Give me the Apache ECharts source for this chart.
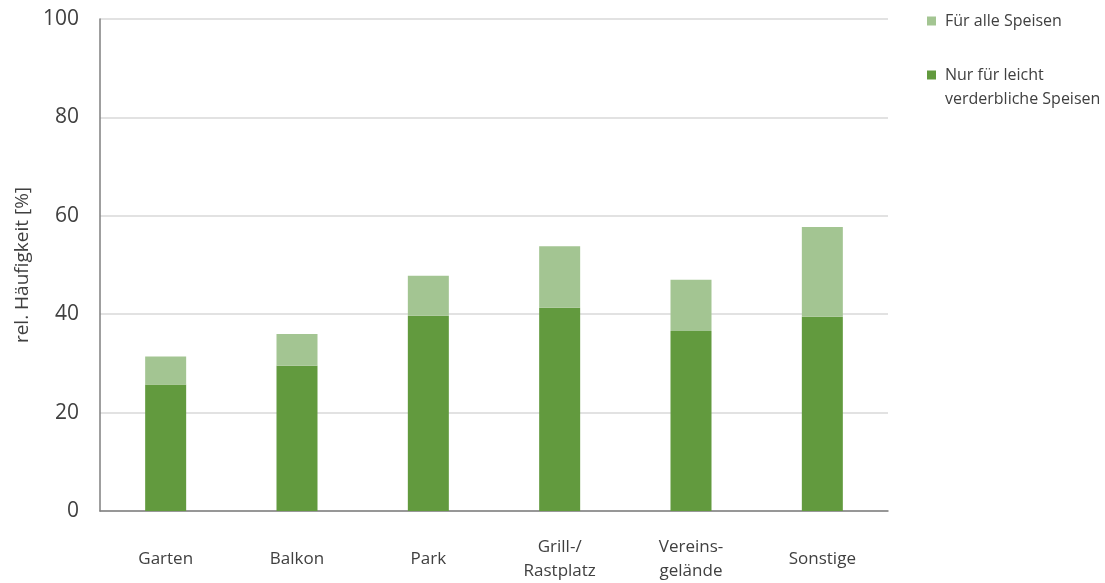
<!DOCTYPE html>
<html lang="de">
<head>
    <meta charset="UTF-8">
    <title>rel. Häufigkeit</title>
    <script src="https://cdn.jsdelivr.net/npm/echarts@6/dist/echarts.min.js"></script>
</head>
<body style="margin:0; width:1105px; height:583px; background:#fff">
<div id="main" style="width:1105px; height:583px"></div>
<script type="text/javascript">
    // Kategorien und Werte
    var categories = ['Garten', 'Balkon', 'Park', 'Grill-/\nRastplatz', 'Vereins-\ngelände', 'Sonstige'];
    var nurLeicht = [25.7, 29.5, 39.7, 41.3, 36.6, 39.5];   // dunkelgrün, unten
    var fuerAlle = [5.7, 6.5, 8.1, 12.5, 10.4, 18.2];       // hellgrün, oben gestapelt
    var yTicks = [0, 20, 40, 60, 80, 100];

    var nameAlle = 'Für alle Speisen';
    var nameLeicht = 'Nur für leicht verderbliche Speisen';

    var font = '"Open Sans", "Noto Sans", sans-serif';
    var myChart = echarts.init(document.getElementById('main'));

    myChart.setOption({
        animation: false,
        textStyle: { fontFamily: font },
        grid: { left: 100, right: 217, top: 19, bottom: 72, containLabel: false },
        legend: {
            orient: 'vertical',
            left: 927,
            top: 9,
            padding: 0,
            itemWidth: 9,
            itemHeight: 9,
            itemGap: 6,
            icon: 'rect',
            textStyle: { fontSize: 16, color: '#404040', fontFamily: font, lineHeight: 24, padding: [0, 0, 0, 4] },
            data: [nameAlle, nameLeicht],
            formatter: function (name) {
                // leere erste Zeile, damit das Symbol neben der ersten Textzeile steht
                if (name === nameLeicht) return ' \nNur für leicht\nverderbliche Speisen';
                return name;
            }
        },
        xAxis: {
            type: 'category',
            data: categories,
            axisLine: { lineStyle: { color: '#7f7f7f', width: 1.5 } },
            axisTick: { show: false },
            axisLabel: {
                color: '#404040',
                fontSize: 17,
                lineHeight: 24,
                margin: 48,
                verticalAlign: 'middle',
                interval: 0
            }
        },
        yAxis: {
            type: 'value',
            min: yTicks[0],
            max: yTicks[yTicks.length - 1],
            interval: 20,
            name: 'rel. Häufigkeit [%]',
            nameLocation: 'middle',
            nameGap: 67,
            nameTextStyle: { color: '#404040', fontSize: 19 },
            axisLine: { show: true, lineStyle: { color: '#7f7f7f', width: 1.5 } },
            axisTick: { show: false },
            axisLabel: { color: '#404040', fontSize: 21, margin: 21 },
            splitLine: { lineStyle: { color: '#d9d9d9', width: 1.5 } }
        },
        series: [
            {
                name: nameLeicht,
                type: 'bar',
                stack: 'gesamt',
                barWidth: 41,
                itemStyle: { color: '#629a3e' },
                data: nurLeicht
            },
            {
                name: nameAlle,
                type: 'bar',
                stack: 'gesamt',
                barWidth: 41,
                itemStyle: { color: '#a3c592' },
                data: fuerAlle
            }
        ]
    });
</script>
</body>
</html>
